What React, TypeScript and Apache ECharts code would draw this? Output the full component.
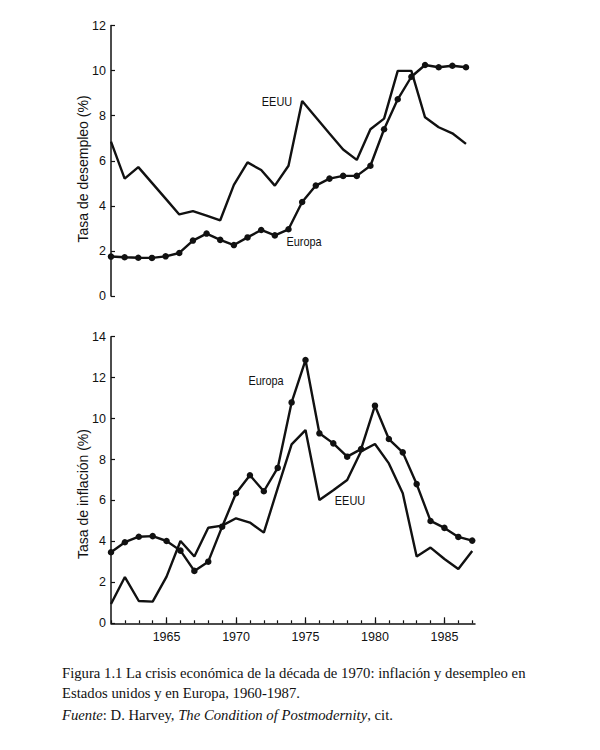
import React, { useEffect, useRef } from "react";
import * as echarts from "echarts";

const years = [
  1961, 1962, 1963, 1964, 1965, 1966, 1967, 1968, 1969, 1970, 1971, 1972, 1973, 1974,
  1975, 1976, 1977, 1978, 1979, 1980, 1981, 1982, 1983, 1984, 1985, 1986, 1987,
];
const unemploymentEuropa = [
  1.75, 1.72, 1.7, 1.69, 1.76, 1.91, 2.46, 2.77, 2.49, 2.26, 2.6, 2.93, 2.69, 2.96,
  4.17, 4.9, 5.21, 5.33, 5.33, 5.78, 7.4, 8.73, 9.73, 10.25, 10.15, 10.22, 10.15,
];
const unemploymentEEUU = [
  6.85, 5.21, 5.72, 5.02, 4.32, 3.62, 3.77, 3.57, 3.36, 4.93, 5.93, 5.59, 4.9, 5.78,
  8.65, 7.93, 7.21, 6.5, 6.04, 7.4, 7.87, 9.99, 9.99, 7.93, 7.49, 7.22, 6.75,
];
const inflationEuropa = [
  3.47, 3.96, 4.23, 4.26, 4.02, 3.55, 2.56, 3.01, 4.72, 6.35, 7.23, 6.45, 7.59, 10.79,
  12.86, 9.28, 8.79, 8.14, 8.51, 10.63, 9.0, 8.35, 6.8, 5.0, 4.66, 4.22, 4.04,
];
const inflationEEUU = [
  0.94, 2.26, 1.09, 1.06, 2.28, 4.02, 3.26, 4.67, 4.77, 5.13, 4.92, 4.43, 6.6, 8.74,
  9.44, 6.02, 6.5, 7.0, 8.4, 8.76, 7.81, 6.35, 3.26, 3.7, 3.14, 2.65, 3.53,
];
const yearLabels = [1965, 1970, 1975, 1980, 1985];
const unemploymentTitle = "Tasa de desempleo (%)";
const inflationTitle = "Tasa de inflación (%)";
const captionLine1 = "Figura 1.1 La crisis económica de la década de 1970: inflación y desempleo en";
const captionLine2 = "Estados unidos y en Europa, 1960-1987.";
const captionLine3 = "{i|Fuente}: D. Harvey, {i|The Condition of Postmodernity}, cit.";

const INK = "#111";
const SANS = "'Liberation Sans', Arial, sans-serif";
const SERIF = "'Liberation Serif', 'Times New Roman', serif";

export default function App() {
  const ref = useRef<HTMLDivElement>(null);
  useEffect(() => {
    const chart = echarts.init(ref.current!, null, { renderer: "svg" });
    const pair = (vals: number[]) => years.map((y, i) => [y, vals[i]]);
    const axisLine = { show: true, onZero: false, lineStyle: { color: INK, width: 1.5 } };
    const yLabel = { fontSize: 12.5, color: INK, fontFamily: SANS, margin: 5 };
    const lineSeries = (name: string, x: number, vals: number[], markers: boolean) => ({
      name,
      type: "line",
      xAxisIndex: x,
      yAxisIndex: x === 0 ? 0 : 1,
      data: pair(vals),
      showSymbol: markers,
      symbol: markers ? "circle" : "none",
      symbolSize: 6.5,
      itemStyle: { color: INK },
      lineStyle: { color: INK, width: 2.4 },
      silent: true,
    });
    const label = (text: string, x: number, y: number) => ({
      type: "text",
      x,
      y,
      scaleX: 0.84,
      style: { text, fill: INK, font: `13px ${SANS}`, align: "center", verticalAlign: "middle" },
    });
    const caption = (text: string, y: number, extra: object = {}) => ({
      type: "text",
      x: 62,
      y,
      scaleX: 0.98,
      style: { text, fill: INK, font: `15px ${SERIF}`, verticalAlign: "middle", ...extra },
    });
    chart.setOption({
      animation: false,
      backgroundColor: "#fff",
      grid: [
        { left: 111, top: 25.6, width: 355, height: 270.4 },
        { left: 111, top: 336.7, width: 364, height: 286.6 },
      ],
      xAxis: [
        { gridIndex: 0, type: "value", min: 1961, max: 1987, show: false },
        {
          gridIndex: 1,
          type: "value",
          min: 1961,
          max: 1987.2,
          axisLine,
          axisTick: { show: true, inside: true, length: 3, customValues: years, lineStyle: { color: INK, width: 1.2 } },
          axisLabel: {
            customValues: yearLabels,
            margin: 7,
            fontSize: 12.5,
            color: INK,
            fontFamily: SANS,
            formatter: (v: number) => String(v),
          },
          splitLine: { show: false },
        },
        {
          gridIndex: 1,
          type: "value",
          min: 1961,
          max: 1987.2,
          position: "bottom",
          axisLine: { show: false },
          axisTick: { show: true, inside: true, length: 6, customValues: yearLabels, lineStyle: { color: INK, width: 1.2 } },
          axisLabel: { show: false },
          splitLine: { show: false },
        },
      ],
      yAxis: [
        {
          gridIndex: 0,
          type: "value",
          min: 0,
          max: 12,
          interval: 2,
          axisLine,
          axisTick: { show: true, inside: true, length: 4, lineStyle: { color: INK, width: 1.2 } },
          axisLabel: yLabel,
          splitLine: { show: false },
        },
        {
          gridIndex: 1,
          type: "value",
          min: 0,
          max: 14,
          interval: 2,
          axisLine,
          axisTick: { show: true, inside: true, length: 4, lineStyle: { color: INK, width: 1.2 } },
          axisLabel: yLabel,
          splitLine: { show: false },
        },
      ],
      series: [
        lineSeries("EEUU desempleo", 0, unemploymentEEUU, false),
        lineSeries("Europa desempleo", 0, unemploymentEuropa, true),
        lineSeries("EEUU inflación", 1, inflationEEUU, false),
        lineSeries("Europa inflación", 1, inflationEuropa, true),
      ],
      graphic: [
        label("EEUU", 277, 102),
        label("Europa", 304, 242),
        label("Europa", 266, 381),
        label("EEUU", 350, 501),
        {
          type: "text",
          x: 83,
          y: 169,
          rotation: Math.PI / 2,
          style: { text: unemploymentTitle, fill: INK, font: `14px ${SANS}`, align: "center", verticalAlign: "middle" },
        },
        {
          type: "text",
          x: 83,
          y: 494,
          rotation: Math.PI / 2,
          style: { text: inflationTitle, fill: INK, font: `14px ${SANS}`, align: "center", verticalAlign: "middle" },
        },
        caption(captionLine1, 673),
        caption(captionLine2, 693),
        caption(captionLine3, 715, {
          rich: { i: { fontStyle: "italic", fontSize: 15, fontFamily: SERIF, fill: INK } },
        }),
      ],
    });
    return () => chart.dispose();
  }, []);
  return <div ref={ref} style={{ position: "fixed", left: 0, top: 0, width: 600, height: 750 }} />;
}
